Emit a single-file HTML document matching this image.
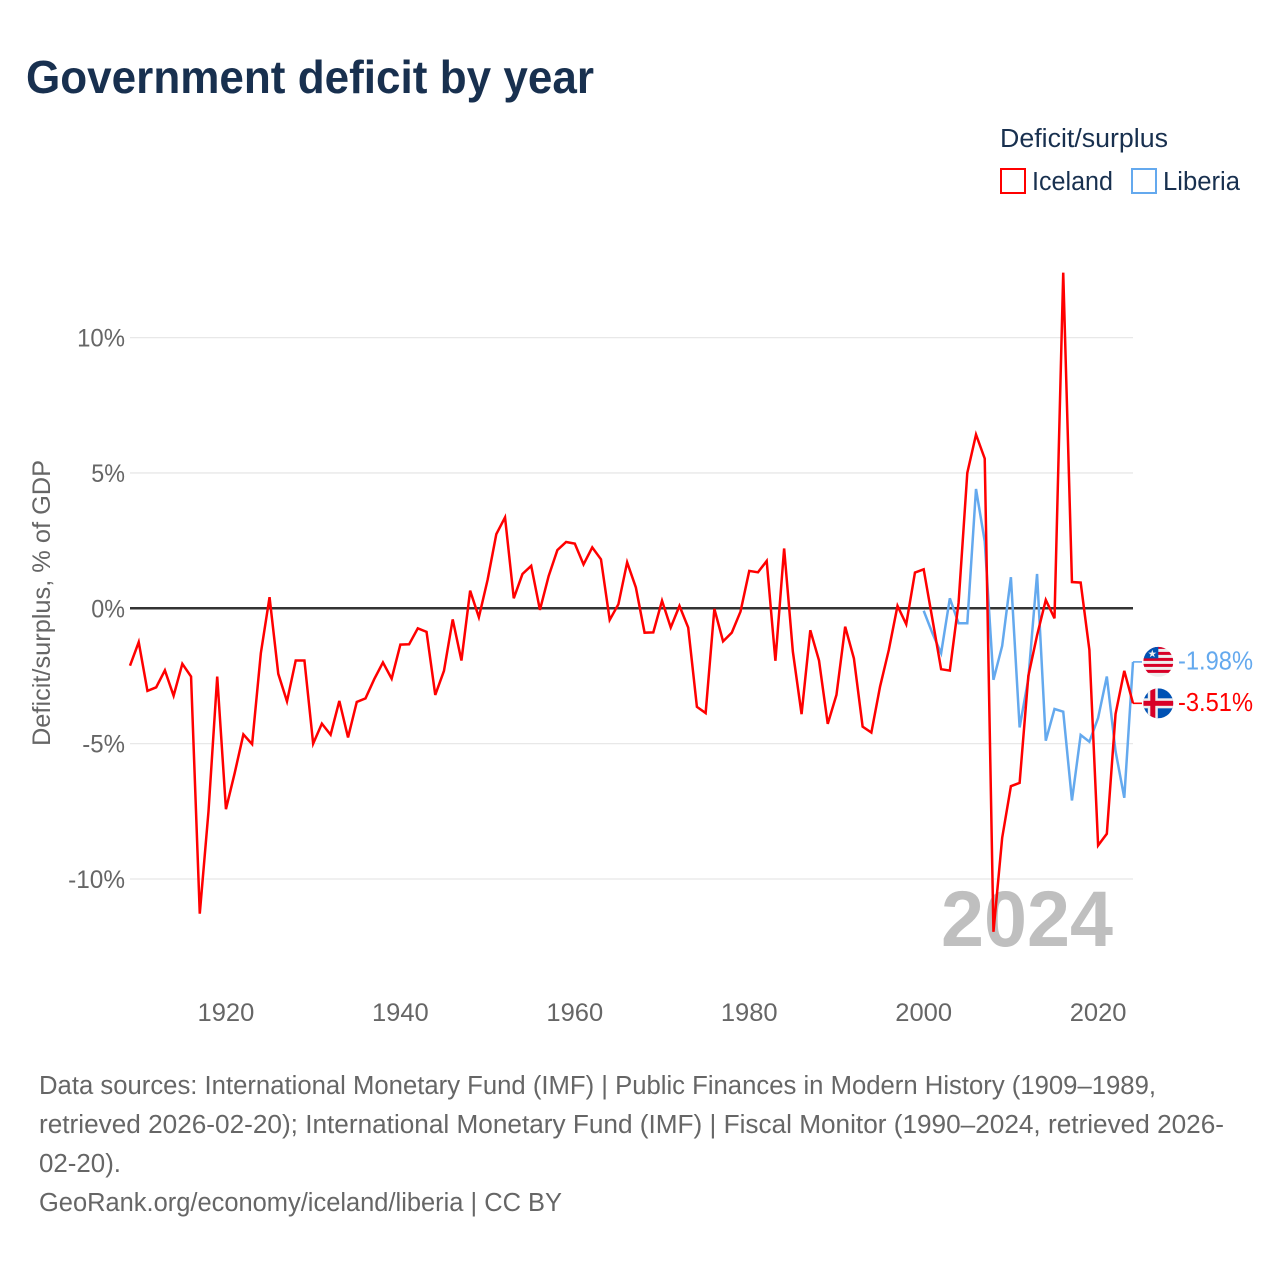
<!DOCTYPE html>
<html lang="en">
<head>
<meta charset="utf-8">
<title>Government deficit by year</title>
<style>
html,body{margin:0;padding:0;background:#fff}
svg{display:block}
text{font-family:"Liberation Sans",sans-serif}
</style>
</head>
<body>
<svg id="chart" xmlns="http://www.w3.org/2000/svg" width="1280" height="1280" viewBox="0 0 1280 1280">
  <rect x="0" y="0" width="1280" height="1280" fill="#ffffff"/>
  <text x="26" y="93" font-size="46" font-weight="700" fill="#18304f" textLength="568" lengthAdjust="spacingAndGlyphs">Government deficit by year</text>

  <g>
    <text x="1000" y="147" font-size="25.5" fill="#18304f" textLength="168" lengthAdjust="spacingAndGlyphs">Deficit/surplus</text>
    <g>
      <rect x="1001" y="169" width="24" height="24" fill="#ffffff" stroke="#ff0000" stroke-width="2"/>
      <text x="1032" y="190" font-size="25.5" fill="#18304f" textLength="81" lengthAdjust="spacingAndGlyphs">Iceland</text>
    </g>
    <g>
      <rect x="1132" y="169" width="24" height="24" fill="#ffffff" stroke="#64a9ee" stroke-width="2"/>
      <text x="1163" y="190" font-size="25.5" fill="#18304f" textLength="77" lengthAdjust="spacingAndGlyphs">Liberia</text>
    </g>
  </g>

  <text transform="translate(50,603) rotate(-90)" text-anchor="middle" font-size="25" fill="#666666" textLength="286" lengthAdjust="spacingAndGlyphs">Deficit/surplus, % of GDP</text>

  <g id="grid"></g>
  <g id="y-ticks"></g>
  <g id="x-ticks"></g>

  <text x="941" y="946" font-size="79" font-weight="700" fill="#bfbfbf" textLength="172" lengthAdjust="spacingAndGlyphs">2024</text>

  <line id="zero-line" stroke="#333333" stroke-width="2.5"/>
  <polyline id="line-liberia" fill="none" stroke="#64a9ee" stroke-width="2.5" stroke-linejoin="miter"/>
  <polyline id="line-iceland" fill="none" stroke="#ff0000" stroke-width="2.5" stroke-linejoin="miter"/>

  <defs>
    <clipPath id="flag-clip"><circle cx="0" cy="0" r="15"/></clipPath>
  </defs>

  <g id="end-liberia">
    <line id="connector-liberia" stroke="#64a9ee" stroke-width="1.6"/>
    <g id="flag-liberia" clip-path="url(#flag-clip)">
      <rect x="-15" y="-15" width="30" height="30" fill="#eeeeee"/>
      <rect x="-15" y="-16" width="30" height="3" fill="#d80027"/>
      <rect x="-15" y="-10" width="30" height="3" fill="#d80027"/>
      <rect x="-15" y="-4" width="30" height="3" fill="#d80027"/>
      <rect x="-15" y="2" width="30" height="3" fill="#d80027"/>
      <rect x="-15" y="8" width="30" height="3" fill="#d80027"/>
      <rect x="-15" y="-15" width="15" height="11.5" fill="#0052b4"/>
      <polygon points="-6,-12.2 -5,-9.3 -1.9,-9.3 -4.4,-7.5 -3.5,-4.6 -6,-6.4 -8.5,-4.6 -7.6,-7.5 -10.1,-9.3 -7,-9.3" fill="#eeeeee"/>
    </g>
    <text id="value-liberia" font-size="26" fill="#64a9ee" textLength="75" lengthAdjust="spacingAndGlyphs"></text>
  </g>

  <g id="end-iceland">
    <line id="connector-iceland" stroke="#ff0000" stroke-width="1.6"/>
    <g id="flag-iceland" clip-path="url(#flag-clip)">
      <rect x="-15" y="-15" width="30" height="30" fill="#0052b4"/>
      <rect x="-15" y="-5" width="30" height="10" fill="#eeeeee"/>
      <rect x="-10.5" y="-15" width="10" height="30" fill="#eeeeee"/>
      <rect x="-15" y="-2.5" width="30" height="5" fill="#d80027"/>
      <rect x="-8" y="-15" width="5" height="30" fill="#d80027"/>
    </g>
    <text id="value-iceland" font-size="26" fill="#ff0000" textLength="75" lengthAdjust="spacingAndGlyphs"></text>
  </g>

  <g font-size="25.5" fill="#666666">
    <text x="39" y="1094" textLength="1117" lengthAdjust="spacingAndGlyphs">Data sources: International Monetary Fund (IMF) | Public Finances in Modern History (1909–1989,</text>
    <text x="39" y="1133" textLength="1185" lengthAdjust="spacingAndGlyphs">retrieved 2026-02-20); International Monetary Fund (IMF) | Fiscal Monitor (1990–2024, retrieved 2026-</text>
    <text x="39" y="1172" textLength="82" lengthAdjust="spacingAndGlyphs">02-20).</text>
    <text x="39" y="1211" textLength="523" lengthAdjust="spacingAndGlyphs">GeoRank.org/economy/iceland/liberia | CC BY</text>
  </g>
</svg>
<script>
const icelandStartYear = 1909;
const liberiaStartYear = 2000;
const icelandValues = [
  -2.12,-1.25,-3.05,-2.92,-2.29,-3.23,-2.05,-2.52,-11.28,-7.5,
  -2.52,-7.42,-6.09,-4.66,-5.02,-1.66,0.41,-2.42,-3.44,-1.93,
  -1.93,-5.0,-4.26,-4.67,-3.42,-4.77,-3.46,-3.33,-2.62,-2.0,
  -2.6,-1.34,-1.33,-0.74,-0.87,-3.2,-2.31,-0.41,-1.93,0.65,
  -0.33,1.05,2.74,3.36,0.37,1.27,1.57,-0.06,1.19,2.15,
  2.45,2.39,1.62,2.25,1.81,-0.43,0.15,1.7,0.77,-0.9,
  -0.89,0.28,-0.71,0.09,-0.71,-3.64,-3.87,-0.02,-1.22,-0.9,
  -0.12,1.38,1.33,1.75,-1.94,2.21,-1.6,-3.91,-0.81,-1.93,
  -4.27,-3.2,-0.68,-1.85,-4.37,-4.59,-2.89,-1.54,0.09,-0.59,
  1.32,1.44,-0.4,-2.25,-2.3,0.2,5.0,6.42,5.53,-11.95,
  -8.48,-6.57,-6.45,-2.5,-1.0,0.31,-0.37,12.4,0.97,0.95,
  -1.54,-8.76,-8.33,-3.9,-2.31,-3.51
];
const liberiaValues = [
  -0.09,-0.92,-1.66,0.37,-0.55,-0.55,4.41,2.47,-2.64,-1.39,
  1.15,-4.4,-2.6,1.27,-4.89,-3.72,-3.82,-7.1,-4.68,-4.93,
  -4.05,-2.52,-5.28,-7.0,-1.98
];
const yTickValues = [10, 5, 0, -5, -10];
const yTickLabels = ["10%", "5%", "0%", "-5%", "-10%"];
const xTickValues = [1920, 1940, 1960, 1980, 2000, 2020];
const xTickLabels = ["1920", "1940", "1960", "1980", "2000", "2020"];

const NS = "http://www.w3.org/2000/svg";
const plot = { left: 130, right: 1133, zeroY: 608.3, pxPerUnit: 27.07, firstYear: 1909, lastYear: 2024 };
function xScale(year) {
  return plot.left + (year - plot.firstYear) * (plot.right - plot.left) / (plot.lastYear - plot.firstYear);
}
function yScale(value) {
  return plot.zeroY - value * plot.pxPerUnit;
}
function labelWidth(label) {
  let w = 0;
  for (const ch of label) {
    if (ch === "%") w += 19.5;
    else if (ch === "-") w += 9;
    else w += 14.2;
  }
  return w;
}
function pointsFor(values, startYear) {
  return values.map((v, i) => xScale(startYear + i).toFixed(2) + "," + yScale(v).toFixed(2)).join(" ");
}

const gridGroup = document.getElementById("grid");
const yTickGroup = document.getElementById("y-ticks");
yTickValues.forEach((v, i) => {
  if (v !== 0) {
    const gl = document.createElementNS(NS, "line");
    
    
    gl.setAttribute("x1", plot.left);
    gl.setAttribute("x2", plot.right);
    gl.setAttribute("y1", yScale(v));
    gl.setAttribute("y2", yScale(v));
    gl.setAttribute("stroke", "#e8e8e8");
    gl.setAttribute("stroke-width", "1.3");
    gridGroup.appendChild(gl);
  }
  const t = document.createElementNS(NS, "text");
  
  
  t.setAttribute("x", 125);
  t.setAttribute("y", yScale(v) + 9);
  t.setAttribute("text-anchor", "end");
  t.setAttribute("font-size", "25");
  t.setAttribute("fill", "#666666");
  t.setAttribute("textLength", labelWidth(yTickLabels[i]));
  t.setAttribute("lengthAdjust", "spacingAndGlyphs");
  t.textContent = yTickLabels[i];
  yTickGroup.appendChild(t);
});

const xTickGroup = document.getElementById("x-ticks");
xTickValues.forEach((v, i) => {
  const t = document.createElementNS(NS, "text");
  
  
  t.setAttribute("x", xScale(v));
  t.setAttribute("y", 1021);
  t.setAttribute("text-anchor", "middle");
  t.setAttribute("font-size", "25");
  t.setAttribute("fill", "#666666");
  t.setAttribute("textLength", labelWidth(xTickLabels[i]));
  t.setAttribute("lengthAdjust", "spacingAndGlyphs");
  t.textContent = xTickLabels[i];
  xTickGroup.appendChild(t);
});

const zero = document.getElementById("zero-line");
zero.setAttribute("x1", plot.left);
zero.setAttribute("x2", plot.right);
zero.setAttribute("y1", yScale(0));
zero.setAttribute("y2", yScale(0));

document.getElementById("line-iceland").setAttribute("points", pointsFor(icelandValues, icelandStartYear));
document.getElementById("line-liberia").setAttribute("points", pointsFor(liberiaValues, liberiaStartYear));

function placeEnd(key, values) {
  const last = values[values.length - 1];
  const y = yScale(last);
  const c = document.getElementById("connector-" + key);
  c.setAttribute("x1", plot.right);
  c.setAttribute("x2", 1142);
  c.setAttribute("y1", y);
  c.setAttribute("y2", y);
  document.getElementById("flag-" + key).setAttribute("transform", "translate(1158.3," + y + ")");
  const t = document.getElementById("value-" + key);
  t.setAttribute("x", 1178);
  t.setAttribute("y", y + 7.5);
  t.textContent = last.toFixed(2) + "%";
}
placeEnd("iceland", icelandValues);
placeEnd("liberia", liberiaValues);
</script>
</body>
</html>
